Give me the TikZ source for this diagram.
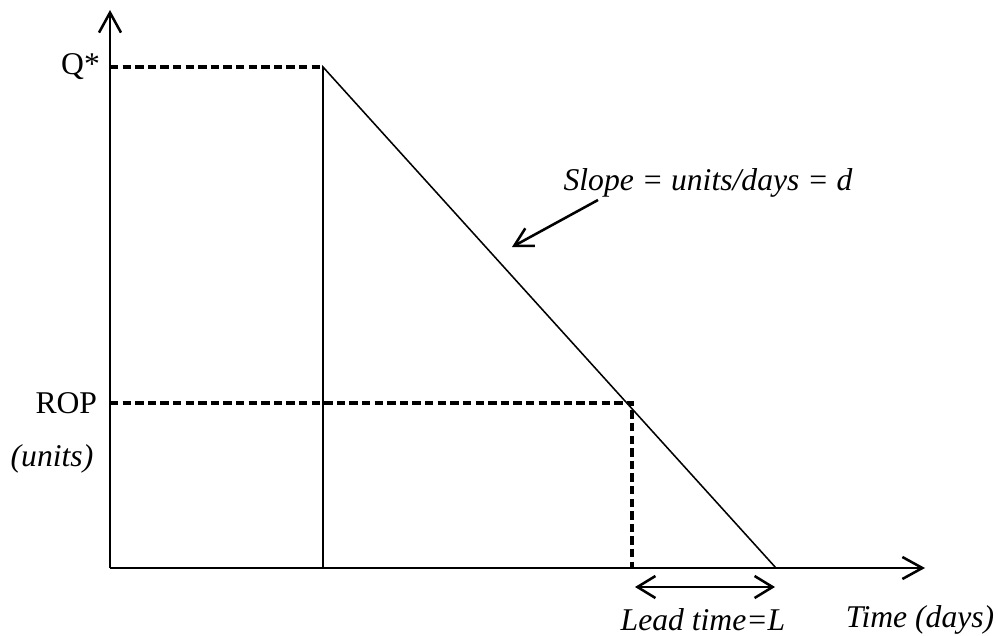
\documentclass[tikz,border=0pt]{standalone}
\usepackage{fontspec}
\setmainfont{Liberation Serif}
\usetikzlibrary{arrows.meta,positioning}
\tikzset{
  axis/.style={line width=1.8pt,-{Straight Barb[length=5mm,width=5.5mm]}},
  guide/.style={line width=2.6pt,dash pattern=on 2.1mm off 1.05mm},
  curve/.style={line width=1.1pt},
  span/.style={line width=1.8pt,{Straight Barb[length=4.5mm,width=5.5mm]}-{Straight Barb[length=4.5mm,width=5.5mm]}},
  pointer/.style={line width=1.8pt,-{Straight Barb[length=4.5mm,width=5mm]}},
  lbl/.style={font=\fontsize{22.5}{27}\selectfont,inner sep=0pt},
  ilbl/.style={lbl,font=\fontsize{22.5}{27}\selectfont\itshape}
}
\begin{document}
\begin{tikzpicture}[x=0.025cm,y=-0.025cm]
\useasboundingbox (0,0) rectangle (998,636);
% axes
\coordinate (o) at (110,568);
\coordinate (ytop) at (110,10);
\coordinate (xend) at (925,568);
\draw[axis] (o) -- (ytop);
\draw[axis] (o) -- (xend);
% inventory cycle
\coordinate (qlev) at (110,67);
\coordinate (peak) at (323,67);
\coordinate (drop) at (323,568);
\coordinate (empty) at (776,568);
\draw[guide] (qlev) -- (peak);
\draw[curve] (drop) -- (peak) -- (empty);
% reorder point
\coordinate (rlev) at (110,403);
\coordinate (hit) at (632,403);
\coordinate (hitbase) at (632,568);
\draw[guide] (rlev) -- (hit) -- (hitbase);
% lead time
\coordinate (la) at (635,587);
\coordinate (lb) at (775,587);
\draw[span] (la) -- (lb);
% labels
\node[lbl,left=7pt of qlev] (q) {Q*};
\node[lbl,left=9pt of rlev] (rop) {ROP};
\node[ilbl] (units) at (52,459) {(units)};
\node[ilbl] (lead) at (703,620) {Lead time=L};
\node[ilbl] (time) at (920,620) {Time (days)};
\node[ilbl] (slope) at (708,183) {Slope = units/days = d};
\coordinate (sfrom) at (598,200);
\coordinate (sto) at (512,247);
\draw[pointer] (sfrom) -- (sto);
\end{tikzpicture}
\end{document}
